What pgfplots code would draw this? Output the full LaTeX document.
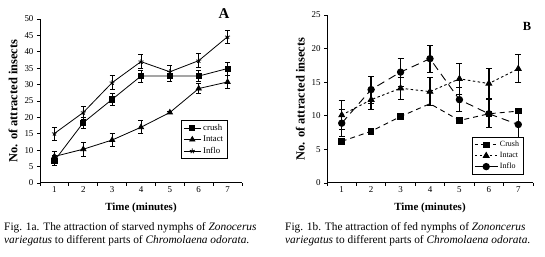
\documentclass[border=0pt]{standalone}
\usepackage{fontspec}
\setmainfont{Liberation Serif}
\usepackage{pgfplots}
\pgfplotsset{compat=1.18}
\pgfplotsset{
  panel/.style={
    scale only axis,
    axis lines=left,
    axis line style={-, line width=1bp},
    xmin=0.5, xmax=7.5, ymin=0,
    tick align=outside,
    major tick length=3bp,
    tick style={line width=0.8bp, black},
    xtick={0.5,1.5,2.5,3.5,4.5,5.5,6.5,7.5},
    xticklabels={},
    extra x ticks={1,2,3,4,5,6,7},
    extra x tick labels={1,2,3,4,5,6,7},
    extra x tick style={major tick length=0bp, tick style={draw=none}},
    /pgf/number format/assume math mode=true,
    ticklabel style={font=\fontsize{9}{10}\selectfont},
    xlabel={Time (minutes)},
    ylabel={No. of attracted insects},
    xlabel style={font=\bfseries\fontsize{11}{12}\selectfont, yshift=-1bp},
    ylabel style={font=\bfseries\fontsize{12.5}{14}\selectfont},
    legend cell align=left,
    error bars/y dir=both,
    error bars/y explicit,
  }
}
\begin{document}
\begin{tikzpicture}
\useasboundingbox (0bp,0bp) rectangle (545bp,257bp);

% ---------- Panel A ----------
\begin{axis}[panel,
  at={(40bp,74bp)}, anchor=south west,
  width=202bp, height=164bp,
  ymax=50, ytick={0,5,...,50},
  legend style={at={(0.698,0.384)}, anchor=north west,
    font=\fontsize{8.8}{10}\selectfont, draw=black, line width=0.8bp,
    inner sep=2bp, row sep=0bp},
  error bars/error bar style={line width=0.7bp, black},
  error bars/error mark options={rotate=90, mark size=2.5bp, line width=0.7bp, black},
]
\addplot[black, line width=0.8bp, mark=square*, mark size=2.6bp,
  mark options={solid}] coordinates {
  (1,6.8) +- (0,1.5)
  (2,18.4) +- (0,1.6)
  (3,25.5) +- (0,1.8)
  (4,32.6) +- (0,1.8)
  (5,32.6) +- (0,1.5)
  (6,32.6) +- (0,1.6)
  (7,34.9) +- (0,2.0)
};
\addlegendentry{crush}
\addplot[black, line width=0.8bp, mark=triangle*, mark size=3bp] coordinates {
  (1,8.1) +- (0,1.5)
  (2,10.3) +- (0,2.1)
  (3,13.1) +- (0,2.0)
  (4,17.0) +- (0,2.0)
  (5,21.5) +- (0,0.3)
  (6,28.8) +- (0,1.6)
  (7,30.8) +- (0,2.0)
};
\addlegendentry{Intact}
\addplot[black, line width=0.8bp, mark=star, mark size=2.6bp,
  mark options={line width=0.8bp}] coordinates {
  (1,15.1) +- (0,2.0)
  (2,21.5) +- (0,2.0)
  (3,30.6) +- (0,2.1)
  (4,37.0) +- (0,2.1)
  (5,33.9) +- (0,2.0)
  (6,37.3) +- (0,2.1)
  (7,44.6) +- (0,2.0)
};
\addlegendentry{Inflo}
\end{axis}

% ---------- Panel B ----------
\begin{axis}[panel,
  at={(327bp,74bp)}, anchor=south west,
  width=206bp, height=168bp,
  ymax=25, ytick={0,5,...,25},
  legend style={at={(0.704,0.274)}, anchor=north west,
    font=\fontsize{8}{9.5}\selectfont, draw=black, line width=0.8bp,
    inner sep=2bp, row sep=0bp},
  error bars/error bar style={line width=1.5bp, black, solid},
  error bars/error mark options={rotate=90, mark size=3bp, line width=0.9bp, black, solid},
]
\addplot[black, line width=0.9bp, dash pattern=on 5bp off 4bp,
  mark=square*, mark size=2.8bp, mark options={solid},
  mark indices={1,2,3,5,6,7},
  legend image code/.code={%
    \draw[dash pattern=on 3bp off 3bp, mark indices={2}] plot coordinates {(0cm,0cm) (0.4cm,0cm) (0.8cm,0cm)};}]
  coordinates {
  (1,6.2) (2,7.7) (3,9.9) (4,11.8) (5,9.3) (6,10.3) (7,10.7)
};
\addlegendentry{Crush}
\addplot[black, line width=0.9bp, dash pattern=on 2.5bp off 2.5bp,
  mark=triangle*, mark size=3.3bp, mark options={solid},
  legend image code/.code={%
    \draw[mark indices={2}] plot coordinates {(0cm,0cm) (0.4cm,0cm) (0.8cm,0cm)};}]
  coordinates {
  (1,10.1) +- (0,2.2)
  (2,12.4) +- (0,1.5)
  (3,14.1) +- (0,1.6)
  (4,13.6) +- (0,2.1)
  (5,15.5) +- (0,2.3)
  (6,14.8) +- (0,2.2)
  (7,17.0) +- (0,2.1)
};
\addlegendentry{Intact}
\addplot[black, line width=0.9bp, dash pattern=on 8bp off 5bp,
  mark=*, mark size=3.2bp, mark options={solid},
  legend image code/.code={%
    \draw[solid, mark indices={2}] plot coordinates {(0cm,0cm) (0.4cm,0cm) (0.8cm,0cm)};}]
  coordinates {
  (1,8.9) +- (0,2.0)
  (2,13.9) +- (0,2.0)
  (3,16.5) +- (0,2.1)
  (4,18.5) +- (0,2.0)
  (5,12.4) +- (0,1.8)
  (6,10.3) +- (0,2.1)
  (7,8.7) +- (0,2.0)
};
\addlegendentry{Inflo}
\end{axis}

% ---------- Letters ----------
\node[font=\bfseries\fontsize{15}{16}\selectfont] at (224bp,243bp) {A};
\node[font=\bfseries\fontsize{12.5}{14}\selectfont] at (527bp,231bp) {B};

% ---------- Captions ----------
\node[anchor=north west, inner sep=0pt, align=left,
  font=\fontsize{11.4}{13}\selectfont] at (4bp,35bp) {%
  Fig. 1a. The attraction of starved nymphs of \textit{Zonocerus}\\
  \textit{variegatus} to different parts of \textit{Chromolaena odorata}.};
\node[anchor=north west, inner sep=0pt, align=left,
  font=\fontsize{11.4}{13}\selectfont] at (285bp,35bp) {%
  Fig. 1b. The attraction of fed nymphs of \textit{Zononcerus}\\
  \textit{variegatus} to different parts of \textit{Chromolaena odorata}.};
\end{tikzpicture}
\end{document}
